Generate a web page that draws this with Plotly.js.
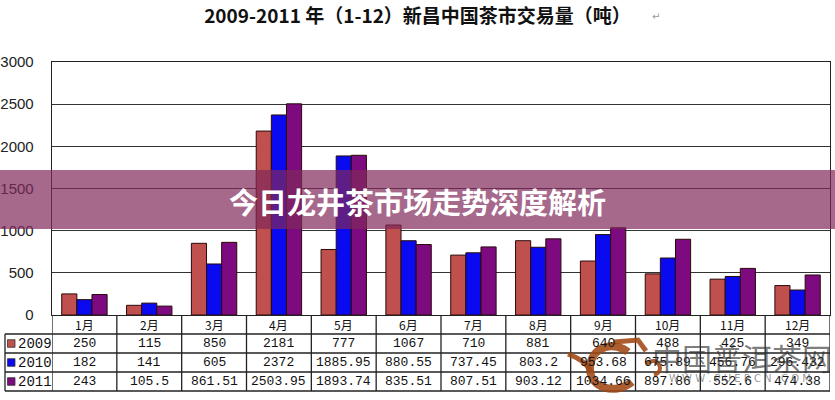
<!DOCTYPE html>
<html>
<head>
<meta charset="utf-8">
<script src="https://cdn.plot.ly/plotly-3.0.1.min.js"></script>
<style>html,body{margin:0;padding:0;background:#fff;}#chart{width:835px;height:400px;}</style>
</head>
<body>
<div id="chart"></div>
<script>
// ---- data ----
var months = ["1月","2月","3月","4月","5月","6月","7月","8月","9月","10月","11月","12月"];
var seriesNames = ["2009","2010","2011"];
var v2009 = [250, 115, 850, 2181, 777, 1067, 710, 881, 640, 488, 425, 349];
var v2010 = [182, 141, 605, 2372, 1885.95, 880.55, 737.45, 803.2, 953.68, 675.89, 456.76, 296.432];
var v2011 = [243, 105.5, 861.51, 2503.95, 1893.74, 835.51, 807.51, 903.12, 1034.66, 897.86, 552.6, 474.38];
var yTicks = [0, 500, 1000, 1500, 2000, 2500, 3000];
var titleText = "2009-2011 年（1-12）新昌中国茶市交易量（吨）";
var bannerText = "今日龙井茶市场走势深度解析";
var watermarkText = "中国普洱茶网";
var watermarkUrl = "W W W . P U E R C N . C O M";

// ---- styling / layout ----
var colors = ["#C0504D", "#0A0AF0", "#7E0A80"];
var series = [v2009, v2010, v2011];
var L = 52, R = 5, T = 62, B = 85, W = 835, H = 400;
var PW = W - L - R, PH = H - T - B;
function px(x) { return (x - L) / PW; }
function py(y) { return (H - B - y) / PH; }

var traces = series.map(function (vals, i) {
  return {
    type: "bar", x: months, y: vals, name: seriesNames[i],
    marker: { color: colors[i], line: { color: "#2a0a0a", width: 1 } },
    hoverinfo: "x+y+name"
  };
});

var shapes = [];
var annotations = [];
var lineStyle = { color: "#222", width: 1.3 };
var rowLines = [334, 353, 372, 391];
var rowCenters = [324.5, 343.5, 362.5, 381.5];
var leftX = px(5);

function ann(o) {
  o.showarrow = false;
  if (!o.xanchor) o.xanchor = "center";
  if (!o.yanchor) o.yanchor = "middle";
  annotations.push(o);
}

// vertical lines of table (category boundaries)
for (var i = 0; i <= months.length; i++) {
  shapes.push({ type: "line", xref: "x", yref: "paper", x0: i - 0.5, x1: i - 0.5,
    y0: 0, y1: py(rowLines[3]), line: lineStyle });
}
// horizontal lines
rowLines.forEach(function (ry) {
  shapes.push({ type: "line", xref: "paper", yref: "paper", x0: leftX, x1: 1,
    y0: py(ry), y1: py(ry), line: lineStyle });
});
// left column border
shapes.push({ type: "line", xref: "paper", yref: "paper", x0: leftX, x1: leftX,
  y0: py(rowLines[0]), y1: py(rowLines[3]), line: lineStyle });

// month header
months.forEach(function (m) {
  ann({ xref: "x", yref: "paper", x: m, y: py(rowCenters[0]), text: m,
    font: { family: "Noto Sans CJK SC", size: 12, color: "#111" } });
});
// values rows
series.forEach(function (vals, s) {
  vals.forEach(function (v, i) {
    ann({ xref: "x", yref: "paper", x: months[i], y: py(rowCenters[s + 1]),
      text: String(v), font: { family: "Liberation Mono", size: 13, color: "#111" } });
  });
  // legend key
  shapes.push({ type: "rect", xref: "paper", yref: "paper",
    x0: px(7.5), x1: px(15), y0: py(rowCenters[s + 1] - 3.8), y1: py(rowCenters[s + 1] + 3.8),
    fillcolor: colors[s], line: { color: "#333", width: 0.8 } });
  ann({ xref: "paper", yref: "paper", x: px(16), y: py(rowCenters[s + 1]),
    xanchor: "left", text: seriesNames[s],
    font: { family: "Liberation Mono", size: 14, color: "#111" } });
});

// watermark logo (decorative)
var brown = "rgba(160,72,20,0.88)";
shapes.push({ type: "path", xref: "paper", yref: "paper",
  path: "M " + px(628) + "," + py(352) + " C " + px(616) + "," + py(342) + " " + px(592) + "," + py(344) + " " + px(590) + "," + py(367) +
        " C " + px(589) + "," + py(389) + " " + px(616) + "," + py(395) + " " + px(632) + "," + py(382),
  line: { color: brown, width: 8 } });
shapes.push({ type: "path", xref: "paper", yref: "paper",
  path: "M " + px(614) + "," + py(342) + " L " + px(638) + "," + py(340) + " L " + px(646) + "," + py(351),
  line: { color: brown, width: 5 } });
shapes.push({ type: "path", xref: "paper", yref: "paper",
  path: "M " + px(568) + "," + py(354) + " C " + px(578) + "," + py(358) + " " + px(586) + "," + py(362) + " " + px(591) + "," + py(372),
  line: { color: brown, width: 5 } });
shapes.push({ type: "path", xref: "paper", yref: "paper",
  path: "M " + px(646) + "," + py(364) + " C " + px(658) + "," + py(354) + " " + px(666) + "," + py(372) + " " + px(654) + "," + py(375),
  line: { color: brown, width: 4 } });
ann({ xref: "paper", yref: "paper", x: px(742), y: py(357), text: watermarkText,
  font: { family: "Noto Sans CJK SC", size: 30, color: "rgba(50,50,50,0.65)" } });
ann({ xref: "paper", yref: "paper", x: px(740), y: py(379), text: watermarkUrl,
  font: { family: "DejaVu Sans", size: 10, color: "rgba(90,90,90,0.65)" } });

// banner
shapes.push({ type: "rect", xref: "paper", yref: "paper", layer: "above",
  x0: px(-2), x1: px(838), y0: py(229), y1: py(170),
  fillcolor: "rgba(128,40,90,0.7)", line: { width: 0 } });
ann({ xref: "paper", yref: "paper", x: px(417), y: py(201), text: "<b>" + bannerText + "</b>",
  font: { family: "Noto Sans CJK SC", size: 29, color: "#ffffff" } });
// return mark after title
ann({ xref: "paper", yref: "paper", x: px(656), y: py(17), text: "↵",
  font: { family: "DejaVu Sans", size: 10, color: "#999" } });

var layout = {
  width: W, height: H,
  margin: { l: L, r: R, t: T, b: B, pad: 0 },
  paper_bgcolor: "#ffffff", plot_bgcolor: "#ffffff",
  showlegend: false,
  barmode: "group", bargap: 0.3, bargroupgap: 0,
  title: { text: "<b>" + titleText + "</b>", x: 0.5, xanchor: "center", y: 1 - 16 / H, yanchor: "middle",
    font: { family: "Noto Sans CJK SC", size: 19, color: "#111" } },
  xaxis: { type: "category", categoryorder: "array", categoryarray: months,
    showticklabels: false, ticks: "", showgrid: false, zeroline: false,
    showline: true, linecolor: "#222", linewidth: 1.3, mirror: true, range: [-0.5, 11.5], fixedrange: true },
  yaxis: { range: [0, 3000], tickvals: yTicks, ticktext: yTicks.map(String),
    showgrid: true, gridcolor: "#333", gridwidth: 1.3, zeroline: false,
    showline: true, linecolor: "#222", linewidth: 1.3, mirror: true,
    ticks: "outside", ticklen: 14, tickcolor: "rgba(0,0,0,0)",
    tickfont: { family: "Liberation Sans", size: 15, color: "#222" }, fixedrange: true },
  shapes: shapes,
  annotations: annotations
};

Plotly.newPlot("chart", traces, layout, { displayModeBar: false, staticPlot: true });
</script>
</body>
</html>
